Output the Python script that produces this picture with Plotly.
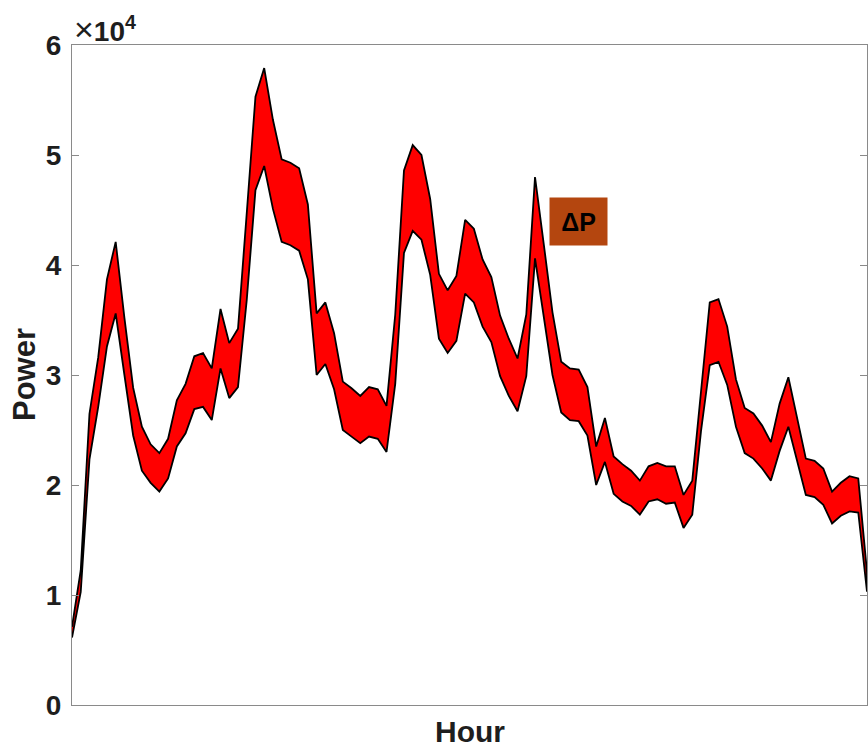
import plotly.graph_objects as go

# Power band (units of 1e4), upper and lower envelopes, one value per hour step
upper = [0.711, 1.225, 2.648, 3.16, 3.87, 4.21, 3.52, 2.885, 2.53, 2.37, 2.29, 2.42, 2.77, 2.92, 3.17, 3.20, 3.06, 3.60, 3.29, 3.42, 4.47, 5.53, 5.79,
         5.32, 4.96, 4.93, 4.88, 4.55, 3.56, 3.66, 3.38, 2.94, 2.88, 2.81, 2.89, 2.87, 2.72, 3.55, 4.86, 5.09, 5.00, 4.60, 3.92, 3.77, 3.90, 4.41, 4.33,
         4.05, 3.89, 3.54, 3.33, 3.15, 3.55, 4.80, 4.19, 3.57, 3.12, 3.06, 3.05, 2.89, 2.35, 2.61, 2.26, 2.19, 2.13, 2.04, 2.17, 2.20, 2.17, 2.17,
         1.91, 2.04, 2.85, 3.66, 3.69, 3.44, 2.96, 2.70, 2.65, 2.54, 2.39, 2.74, 2.98, 2.61, 2.24, 2.22, 2.15, 1.94, 2.02, 2.08, 2.06, 1.21]
lower = [0.613, 1.028, 2.233, 2.71, 3.26, 3.56, 3.00, 2.45, 2.13, 2.02, 1.94, 2.06, 2.35, 2.47, 2.69, 2.71, 2.59, 3.06, 2.79, 2.89, 3.68, 4.68, 4.90,
         4.51, 4.21, 4.18, 4.13, 3.87, 3.00, 3.10, 2.87, 2.50, 2.44, 2.38, 2.44, 2.42, 2.30, 2.92, 4.11, 4.31, 4.23, 3.91, 3.33, 3.20, 3.31, 3.74, 3.66,
         3.44, 3.30, 2.99, 2.81, 2.67, 2.99, 4.06, 3.52, 3.00, 2.66, 2.59, 2.58, 2.45, 2.00, 2.21, 1.92, 1.85, 1.81, 1.73, 1.85, 1.87, 1.83, 1.84,
         1.61, 1.73, 2.49, 3.09, 3.12, 2.91, 2.53, 2.29, 2.24, 2.15, 2.04, 2.31, 2.53, 2.23, 1.91, 1.89, 1.82, 1.65, 1.72, 1.76, 1.75, 1.03]
scale = 1e4
ytick_vals = [0, 1, 2, 3, 4, 5, 6]
ytick_text = ["0", "1", "2", "3", "4", "5", "6"]
label_text = "ΔP"
label_pos = (58, 4.4)
x_title = "Hour"
y_title = "Power"

hours = list(range(len(upper)))
band_x = hours + hours[::-1]
band_y = [v * scale for v in upper] + [v * scale for v in lower[::-1]]

FONT = "Liberation Sans"
TXT = "#1e1e1e"

fig = go.Figure()
fig.add_trace(go.Scatter(
    x=band_x, y=band_y, mode="lines", fill="toself",
    fillcolor="#FF0000", line=dict(color="black", width=1.8),
    hoverinfo="skip", showlegend=False,
))

fig.add_annotation(
    x=label_pos[0], y=label_pos[1] * scale, xref="x", yref="y",
    text="<b>" + label_text + "</b>", showarrow=False,
    font=dict(family=FONT, size=25, color="black"),
    bgcolor="#B4460F", width=55, height=45, align="center", valign="middle",
)
fig.add_annotation(
    x=0, y=1, xref="paper", yref="paper", xanchor="left", yanchor="bottom",
    text="<span style='font-size:34px'>×</span><b>10<sup>4</sup></b>", showarrow=False, xshift=0, yshift=-5,
    font=dict(family=FONT, size=28, color=TXT),
)
fig.add_annotation(
    x=0.5, y=0, xref="paper", yref="paper", xanchor="center", yanchor="top",
    text="<b>" + x_title + "</b>", showarrow=False, yshift=-8,
    font=dict(family=FONT, size=30, color=TXT),
)
fig.add_annotation(
    x=0, y=0.5, xref="paper", yref="paper", xanchor="center", yanchor="middle",
    text="<b>" + y_title + "</b>", showarrow=False, xshift=-48, textangle=-90,
    font=dict(family=FONT, size=31, color=TXT),
)

fig.update_layout(
    width=868, height=747,
    margin=dict(l=72, r=1, t=45, b=42),
    paper_bgcolor="white", plot_bgcolor="white",
    font=dict(family=FONT, color=TXT),
    showlegend=False,
)
fig.update_xaxes(
    range=[0, len(upper) - 1], showticklabels=False, ticks="",
    showgrid=False, zeroline=False, showline=True, linecolor="#8a8a8a", linewidth=1.2,
    mirror=True,
)
fig.update_yaxes(
    range=[0, 6 * scale], tickvals=[v * scale for v in ytick_vals], ticktext=["<b>%s</b>" % t for t in ytick_text],
    ticks="inside", ticklen=7, tickcolor="#8a8a8a", tickwidth=1.2, ticklabelstandoff=4,
    tickfont=dict(family=FONT, size=28, color=TXT),
    showgrid=False, zeroline=False, showline=True, linecolor="#8a8a8a", linewidth=1.2,
    mirror="ticks",
)

fig.write_html("out.html")
